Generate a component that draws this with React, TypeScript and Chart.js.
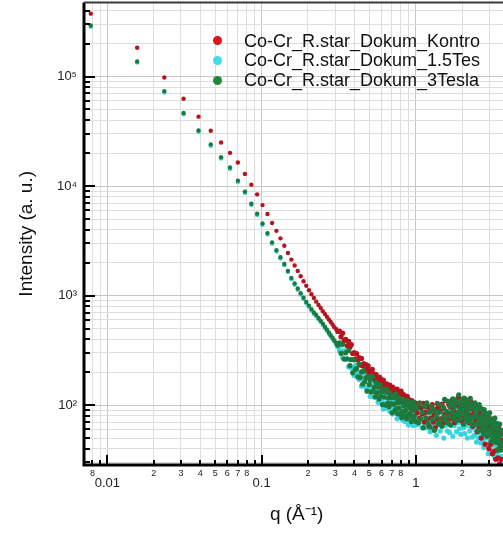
import React, { useEffect, useRef } from 'react';
import { Chart, registerables } from 'chart.js';

Chart.register(...registerables);

const FONT = "'Liberation Sans', Arial, Helvetica, sans-serif";

const SERIES_NAMES = ['Co-Cr_R.star_Dokum_Kontro', 'Co-Cr_R.star_Dokum_1.5Tes', 'Co-Cr_R.star_Dokum_3Tesla'];
const POINT_COLORS = ['#b5141e', '#3cd4dc', '#1d7a3c'];
const LEGEND_COLORS = ['#e3131b', '#40dde4', '#1f8a35'];

// q (1/Å)
const Q_VALUES = [
  0.0078, 0.0156, 0.0234, 0.0312, 0.039, 0.0468, 0.0546, 0.0624, 0.0702, 0.078,
  0.0858, 0.0936, 0.1014, 0.1092, 0.117, 0.1248, 0.1326, 0.1404, 0.1482, 0.156,
  0.1638, 0.1716, 0.1794, 0.1872, 0.195, 0.2028, 0.2106, 0.2184, 0.2262, 0.234,
  0.2418, 0.2496, 0.2574, 0.2652, 0.273, 0.2808, 0.2886, 0.2964, 0.3042, 0.312,
  0.3198, 0.3276, 0.3354, 0.3432, 0.351, 0.3588, 0.3666, 0.3744, 0.3822, 0.39,
  0.3978, 0.4056, 0.4134, 0.4212, 0.429, 0.4368, 0.4446, 0.4524, 0.4602, 0.468,
  0.4758, 0.4836, 0.4914, 0.4992, 0.507, 0.5148, 0.5226, 0.5304, 0.5382, 0.546,
  0.5538, 0.5616, 0.5694, 0.5772, 0.585, 0.5928, 0.6006, 0.6084, 0.6162, 0.624,
  0.6318, 0.6396, 0.6474, 0.6552, 0.663, 0.6708, 0.6786, 0.6864, 0.6942, 0.702,
  0.7098, 0.7176, 0.7254, 0.7332, 0.741, 0.7488, 0.7566, 0.7644, 0.7722, 0.78,
  0.7878, 0.7956, 0.8034, 0.8112, 0.819, 0.8268, 0.8346, 0.8424, 0.8502, 0.858,
  0.8658, 0.8736, 0.8814, 0.8892, 0.897, 0.9048, 0.9126, 0.9204, 0.9282, 0.936,
  0.9438, 0.9516, 0.9594, 0.9672, 0.975, 0.9828, 0.9906, 0.9984,
  1.02, 1.04, 1.06, 1.08, 1.1, 1.12, 1.14, 1.16, 1.18, 1.2,
  1.22, 1.24, 1.26, 1.28, 1.3, 1.32, 1.34, 1.36, 1.38, 1.4,
  1.42, 1.44, 1.46, 1.48, 1.5, 1.52, 1.54, 1.56, 1.58, 1.6,
  1.62, 1.64, 1.66, 1.68, 1.7, 1.72, 1.74, 1.76, 1.78, 1.8,
  1.82, 1.84, 1.86, 1.88, 1.9, 1.92, 1.94, 1.96, 1.98, 2,
  2.02, 2.04, 2.06, 2.08, 2.1, 2.12, 2.14, 2.16, 2.18, 2.2,
  2.22, 2.24, 2.26, 2.28, 2.3, 2.32, 2.34, 2.36, 2.38, 2.4,
  2.42, 2.44, 2.46, 2.48, 2.5, 2.52, 2.54, 2.56, 2.58, 2.6,
  2.62, 2.64, 2.66, 2.68, 2.7, 2.72, 2.74, 2.76, 2.78, 2.8,
  2.82, 2.84, 2.86, 2.88, 2.9, 2.92, 2.94, 2.96, 2.98, 3,
  3.02, 3.04, 3.06, 3.08, 3.1, 3.12, 3.14, 3.16, 3.18, 3.2,
  3.22, 3.24, 3.26, 3.28, 3.3, 3.32, 3.34, 3.36, 3.38, 3.4,
  3.42, 3.44, 3.46, 3.48, 3.5, 3.52, 3.54, 3.56, 3.58, 3.6,
];

const KONTROL = [
  375000, 183000, 98000, 62700, 43000, 32000, 25000, 20100, 16400, 12900,
  10300, 8400, 6700, 5550, 4600, 3900, 3330, 2850, 2450, 2130,
  1880, 1680, 1500, 1350, 1230, 1120, 1030, 950, 880, 820,
  770, 720, 680, 640, 605, 575, 545, 515, 495, 470,
  474, 422, 454, 388, 399, 349, 382, 338, 357, 296,
  302, 264, 296, 259, 272, 233, 267, 228, 239, 206,
  234, 213, 228, 193, 205, 181, 212, 181, 192, 168,
  190, 166, 174, 152, 179, 158, 168, 144, 169, 143,
  155, 142, 156, 131, 149, 137, 152, 127, 139, 129,
  146, 122, 137, 127, 138, 116, 140, 120, 129, 115,
  132, 117, 134, 109, 123, 110, 125, 112, 115, 102,
  118, 105, 120, 100, 110, 102, 112, 94, 108, 96,
  110, 98, 102, 91, 105, 93, 105, 89,
  85, 102, 76, 94, 83, 104, 70, 86, 75, 96,
  64, 88, 76, 101, 70, 82, 62, 92, 75, 97,
  70, 88, 75, 102, 69, 94, 82, 110, 75, 86,
  69, 101, 81, 96, 75, 111, 80, 95, 69, 108,
  86, 102, 75, 117, 83, 96, 80, 113, 72, 105,
  88, 99, 76, 114, 80, 104, 73, 91, 83, 106,
  69, 98, 77, 107, 81, 92, 64, 99, 77, 87,
  69, 100, 72, 92, 57, 86, 74, 93, 62, 78,
  66, 87, 50, 82, 67, 90, 57, 76, 60, 81,
  44, 77, 62, 81, 52, 69, 62, 80, 40, 70,
  55, 73, 44, 64, 57, 74, 36, 67, 49, 70,
  38, 63, 52, 68, 32, 59, 47, 63, 39, 56,
  33, 62, 46, 53, 29, 57, 41, 54, 32, 48,
];

const TESLA_15 = [
  285000, 134000, 71500, 45200, 31300, 23300, 17800, 14300, 10900, 8650,
  6700, 5450, 4420, 3610, 2980, 2520, 2180, 1890, 1640, 1410,
  1255, 1130, 1020, 930, 852, 790, 730, 683, 648, 608,
  575, 540, 506, 478, 448, 424, 402, 380, 360, 343,
  316, 352, 271, 315, 262, 312, 224, 260, 218, 261,
  186, 231, 196, 232, 171, 190, 149, 199, 161, 180,
  144, 191, 143, 153, 120, 168, 139, 153, 118, 161,
  124, 137, 106, 143, 119, 149, 107, 127, 92, 132,
  105, 123, 94, 130, 104, 110, 88, 122, 94, 111,
  83, 122, 95, 105, 85, 110, 75, 106, 87, 111,
  79, 97, 88, 109, 74, 99, 80, 103, 71, 94,
  82, 102, 74, 87, 66, 97, 77, 93, 69, 97,
  74, 86, 65, 93, 76, 87, 66, 92,
  85, 67, 93, 71, 62, 86, 67, 92, 62, 75,
  85, 57, 79, 67, 90, 59, 68, 53, 79, 66,
  90, 58, 75, 65, 87, 50, 75, 65, 84, 58,
  69, 80, 56, 89, 65, 77, 52, 85, 65, 74,
  87, 57, 82, 69, 95, 61, 75, 54, 86, 69,
  92, 62, 79, 55, 87, 65, 75, 50, 83, 69,
  90, 58, 78, 62, 85, 51, 70, 62, 80, 53,
  72, 60, 82, 46, 73, 60, 76, 50, 66, 55,
  76, 45, 68, 56, 75, 48, 58, 41, 66, 51,
  68, 43, 61, 50, 68, 43, 55, 36, 60, 45,
  63, 43, 55, 38, 59, 47, 55, 37, 61, 43,
  48, 34, 54, 43, 56, 36, 49, 38, 55, 32,
  48, 38, 50, 32, 45, 39, 50, 29, 46, 34,
];

const TESLA_3 = [
  292000, 137000, 73500, 46400, 32200, 24000, 18300, 14800, 11200, 8900,
  6900, 5600, 4550, 3720, 3060, 2590, 2240, 1940, 1680, 1450,
  1290, 1160, 1050, 955, 875, 810, 750, 700, 665, 625,
  590, 555, 520, 490, 460, 435, 412, 390, 370, 352,
  370, 297, 359, 263, 300, 265, 314, 229, 261, 197,
  259, 212, 215, 181, 238, 178, 201, 155, 205, 164,
  177, 134, 184, 154, 170, 132, 181, 133, 146, 119,
  161, 130, 146, 114, 154, 120, 133, 101, 140, 118,
  132, 100, 139, 103, 116, 97, 129, 103, 117, 85,
  121, 102, 117, 89, 126, 93, 105, 83, 117, 94,
  106, 84, 111, 77, 113, 88, 99, 80, 107, 89,
  102, 75, 110, 81, 96, 79, 104, 84, 96, 71,
  101, 79, 107, 75, 90, 79, 99, 71,
  95, 69, 105, 75, 86, 62, 97, 77, 105, 69,
  86, 63, 98, 74, 92, 59, 88, 79, 104, 67,
  86, 72, 100, 64, 96, 79, 113, 73, 88, 69,
  108, 79, 98, 66, 104, 86, 114, 76, 96, 81,
  110, 72, 104, 86, 124, 81, 94, 75, 111, 89,
  101, 67, 116, 83, 106, 76, 94, 86, 111, 71,
  100, 78, 115, 75, 93, 66, 103, 78, 94, 67,
  105, 78, 86, 67, 96, 58, 91, 70, 101, 67,
  77, 59, 93, 70, 80, 60, 85, 54, 91, 65,
  74, 59, 84, 66, 78, 52, 83, 58, 70, 53,
  85, 59, 70, 47, 74, 60, 63, 51, 75, 54,
  69, 46, 76, 54, 61, 46, 68, 48, 62, 39,
  67, 52, 58, 44, 67, 47, 54, 39, 59, 44,
];

const X_TICKS = [0.008, 0.009, 0.01, 0.02, 0.03, 0.04, 0.05, 0.06, 0.07, 0.08, 0.09,
  0.1, 0.2, 0.3, 0.4, 0.5, 0.6, 0.7, 0.8, 0.9, 1, 2, 3, 4];
const X_TICK_LABELS = ['8', '', '0.01', '2', '3', '4', '5', '6', '7', '8', '',
  '0.1', '2', '3', '4', '5', '6', '7', '8', '', '1', '2', '3', ''];

const Y_TICKS = [30, 40, 50, 60, 70, 80, 90,
  100, 200, 300, 400, 500, 600, 700, 800, 900,
  1000, 2000, 3000, 4000, 5000, 6000, 7000, 8000, 9000,
  10000, 20000, 30000, 40000, 50000, 60000, 70000, 80000, 90000,
  100000, 200000, 300000, 400000];
const Y_LABEL_VALUES = [100, 1000, 10000, 100000];
const Y_LABEL_TEXT = ['10²', '10³', '10⁴', '10⁵'];

const X_MIN = 0.00705;
const X_MAX = 4.05;
const Y_MIN = 28.4;
const Y_MAX = 473000;

const isDecade = (v: number) => Math.abs(Math.log10(v) - Math.round(Math.log10(v))) < 1e-9;

const framePlugin = {
  id: 'frame',
  afterDatasetsDraw(chart: any) {
    const { ctx, chartArea: a, scales } = chart;
    ctx.save();
    ctx.strokeStyle = '#000';
    ctx.lineWidth = 2;
    ctx.beginPath();
    for (const t of scales.x.ticks) {
      const px = Math.round(scales.x.getPixelForValue(t.value));
      const len = t.major ? 10 : 5;
      ctx.moveTo(px, a.bottom);
      ctx.lineTo(px, a.bottom - len);
    }
    for (const t of scales.y.ticks) {
      const py = Math.round(scales.y.getPixelForValue(t.value));
      const len = t.major ? 11 : 6;
      ctx.moveTo(a.left, py);
      ctx.lineTo(a.left + len, py);
    }
    ctx.stroke();
    ctx.lineWidth = 3;
    ctx.beginPath();
    ctx.moveTo(a.left, a.top);
    ctx.lineTo(a.left, a.bottom);
    ctx.lineTo(a.right + 2, a.bottom);
    ctx.stroke();
    ctx.strokeStyle = '#3a3a3a';
    ctx.lineWidth = 2;
    ctx.beginPath();
    ctx.moveTo(a.left, a.top);
    ctx.lineTo(a.right, a.top);
    ctx.stroke();
    ctx.restore();
  },
};

export default function App() {
  const canvasRef = useRef<HTMLCanvasElement | null>(null);

  useEffect(() => {
    const canvas = canvasRef.current;
    if (!canvas) return;
    const toPoints = (ys: number[]) => Q_VALUES.map((q, i) => ({ x: q, y: ys[i] }));
    const seriesValues = [KONTROL, TESLA_15, TESLA_3];
    const orders = [1, 2, 0];
    const radius = (c: any) => (c.raw && c.raw.x > 0.31 ? 2.6 : 2.2);
    const chart = new Chart(canvas, {
      type: 'scatter',
      data: {
        datasets: seriesValues.map((vals, i) => ({
          label: SERIES_NAMES[i],
          data: toPoints(vals),
          backgroundColor: POINT_COLORS[i],
          borderColor: POINT_COLORS[i],
          borderWidth: 0,
          pointRadius: radius,
          pointHoverRadius: radius,
          order: orders[i],
        })),
      },
      options: {
        animation: false,
        responsive: false,
        devicePixelRatio: 1,
        events: [],
        layout: { padding: { top: 2, right: 1, left: 0, bottom: 0 } },
        plugins: { legend: { display: false }, tooltip: { enabled: false } },
        scales: {
          x: {
            type: 'logarithmic',
            position: 'bottom',
            min: X_MIN,
            max: X_MAX,
            afterBuildTicks: (s: any) => {
              s.ticks = X_TICKS.map((v) => ({ value: v, major: isDecade(v) }));
            },
            afterFit: (s: any) => {
              s.height = 71;
              s.paddingLeft = 0;
              s.paddingRight = 0;
            },
            border: { display: false },
            grid: {
              drawTicks: false,
              lineWidth: 1,
              color: (c: any) => (c.tick && c.tick.major ? '#c6c6c6' : '#dedede'),
            },
            ticks: {
              autoSkip: false,
              maxRotation: 0,
              minRotation: 0,
              padding: 2,
              color: '#222',
              font: (c: any) =>
                c.tick && c.tick.major
                  ? { family: FONT, size: 13, lineHeight: 2.6 }
                  : { family: FONT, size: 9, lineHeight: 1.35 },
              callback: (_v: any, i: number) => X_TICK_LABELS[i],
            },
            title: {
              display: true,
              text: 'q (Å⁻¹)',
              color: '#111',
              font: { family: FONT, size: 19 },
              padding: { top: 0, bottom: 10 },
            },
          },
          y: {
            type: 'logarithmic',
            position: 'left',
            min: Y_MIN,
            max: Y_MAX,
            afterBuildTicks: (s: any) => {
              s.ticks = Y_TICKS.map((v) => ({ value: v, major: isDecade(v) }));
            },
            afterFit: (s: any) => {
              s.width = 84;
              s.paddingTop = 0;
              s.paddingBottom = 0;
            },
            border: { display: false },
            grid: {
              drawTicks: false,
              lineWidth: 1,
              color: (c: any) => (c.tick && c.tick.major ? '#c6c6c6' : '#dedede'),
            },
            ticks: {
              autoSkip: false,
              padding: 7,
              color: '#222',
              font: { family: FONT, size: 13 },
              callback: (v: any) => {
                const k = Y_LABEL_VALUES.indexOf(Number(v));
                return k >= 0 ? Y_LABEL_TEXT[k] : '';
              },
            },
            title: {
              display: true,
              text: 'Intensity (a. u.)',
              color: '#111',
              font: { family: FONT, size: 19 },
              padding: { top: 15, bottom: 0 },
            },
          },
        },
      } as any,
      plugins: [framePlugin],
    });
    return () => chart.destroy();
  }, []);

  const legendTop = 40.7;
  const legendStep = 19.7;

  return (
    <div
      style={{
        position: 'fixed',
        left: 0,
        top: 0,
        width: 503,
        height: 536,
        overflow: 'hidden',
        background: '#fff',
      }}
    >
      <canvas ref={canvasRef} width={512} height={536} style={{ display: 'block', width: 512, height: 536 }} />
      {SERIES_NAMES.map((name, i) => (
        <div
          key={name}
          style={{
            position: 'absolute',
            left: 212.5,
            top: legendTop + i * legendStep - 11,
            height: 22,
            display: 'flex',
            alignItems: 'center',
            whiteSpace: 'nowrap',
          }}
        >
          <span
            style={{
              display: 'inline-block',
              width: 9,
              height: 9,
              borderRadius: '50%',
              background: LEGEND_COLORS[i],
              marginRight: 22.5,
            }}
          />
          <span style={{ font: `18px ${FONT}`, color: '#111', lineHeight: '22px' }}>{name}</span>
        </div>
      ))}
    </div>
  );
}
